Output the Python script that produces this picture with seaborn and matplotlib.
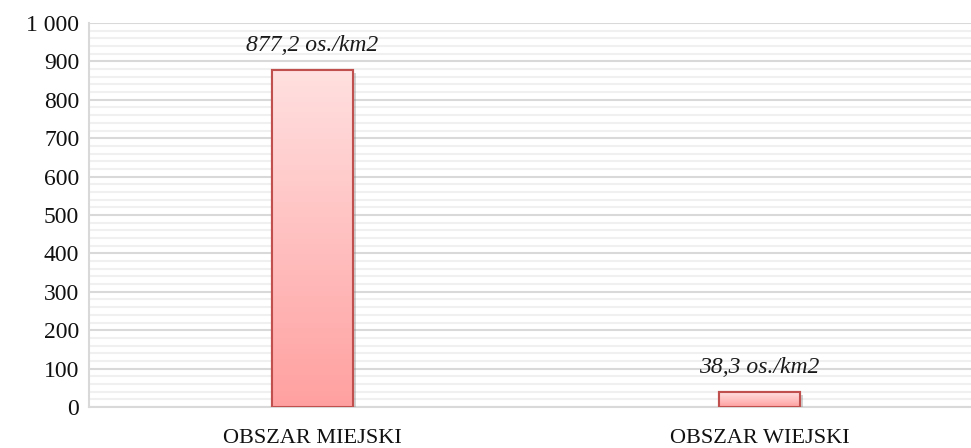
import numpy as np
import matplotlib
matplotlib.use("Agg")
import matplotlib.pyplot as plt
import matplotlib.patheffects as pe
from matplotlib.colors import LinearSegmentedColormap
from matplotlib.ticker import MultipleLocator, FuncFormatter
import seaborn as sns

categories = ["OBSZAR MIEJSKI", "OBSZAR WIEJSKI"]
values = [877.2, 38.3]
labels = ["877,2 os./km2", "38,3 os./km2"]

sns.set_style("white")
plt.rcParams["font.family"] = ["Liberation Serif", "DejaVu Serif"]

fig = plt.figure(figsize=(9.71, 4.48), dpi=100)
ax = fig.add_axes([89 / 971, 41 / 448, 882 / 971, 384 / 448])

sns.barplot(x=categories, y=values, width=0.183, color="#ffb0b0",
            edgecolor="#c0504d", linewidth=1.5, ax=ax, zorder=3)

# gradient fill inside each bar
grad_cmap = LinearSegmentedColormap.from_list("bar", ["#ffa0a0", "#ffe0e0"])
grad = np.linspace(0, 1, 256).reshape(-1, 1)
for p in list(ax.patches):
    x0, y0 = p.get_x(), p.get_y()
    w, h = p.get_width(), p.get_height()
    im = ax.imshow(grad, cmap=grad_cmap, origin="lower", aspect="auto",
                   extent=(x0, x0 + w, y0, y0 + h), zorder=3.5)
    im.set_clip_path(p)
    p.set_path_effects([pe.SimplePatchShadow(offset=(2, -2), shadow_rgbFace="#808080", alpha=0.35),
                        pe.Normal()])
    edge = plt.Rectangle((x0, y0), w, h, fill=False, edgecolor="#c0504d",
                         linewidth=1.5, zorder=4)
    ax.add_patch(edge)
ax.set_xlim(-0.5, -0.5 + 882 / 447)
ax.set_ylim(0, 1000)

for i, (v, lab) in enumerate(zip(values, labels)):
    ax.annotate(lab, (i, v), xytext=(0, 10), textcoords="offset points",
                ha="center", va="bottom", fontsize=17, fontstyle="italic",
                color="#1a1a1a")

ax.yaxis.set_major_locator(MultipleLocator(100))
ax.yaxis.set_minor_locator(MultipleLocator(20))
ax.yaxis.set_major_formatter(FuncFormatter(lambda v, _: f"{int(v):,}".replace(",", " ")))
ax.grid(axis="y", which="major", color="#d9d9d9", linewidth=1.5, zorder=0)
ax.grid(axis="y", which="minor", color="#f0f0f0", linewidth=1.5, zorder=0)
ax.grid(axis="x", visible=False)
ax.set_axisbelow(True)

ax.tick_params(axis="y", which="both", length=0, pad=7, labelsize=17, labelcolor="#111111")
ax.tick_params(axis="x", length=0, pad=16, labelsize=16, labelcolor="#111111")

for side in ["top", "right"]:
    ax.spines[side].set_visible(False)
ax.spines["left"].set_color("#d9d9d9")
ax.spines["left"].set_linewidth(1.5)
ax.spines["bottom"].set_color("#d9d9d9")
ax.spines["bottom"].set_linewidth(1.5)

fig.savefig("out.png", dpi=100)
plt.close()
